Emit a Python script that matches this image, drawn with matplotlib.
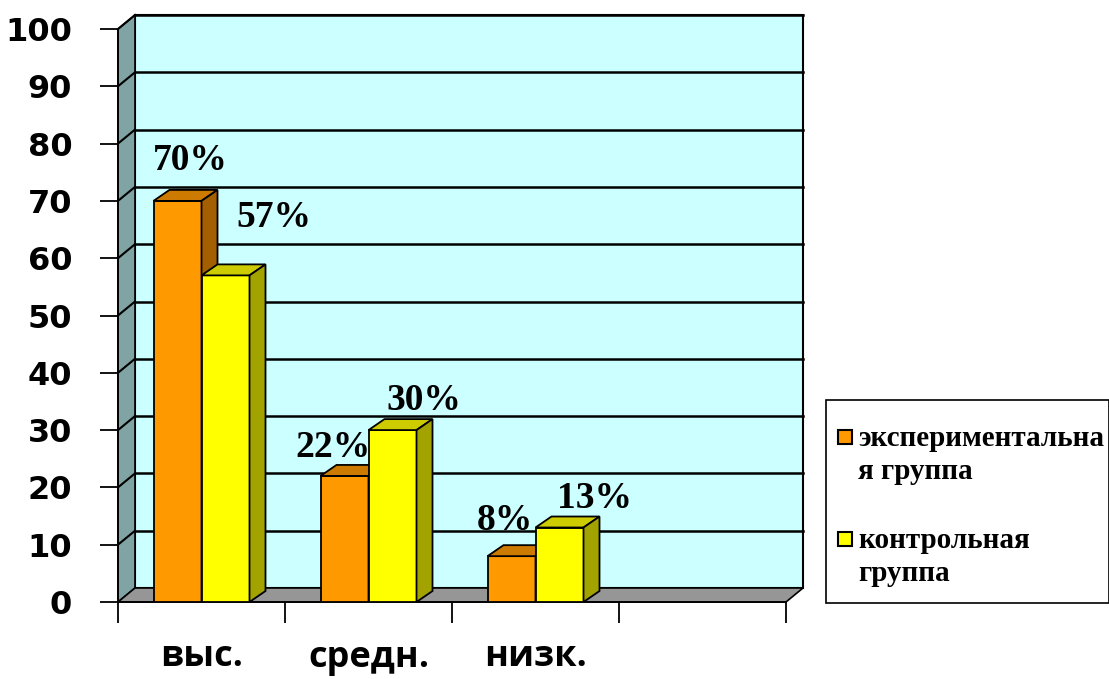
import matplotlib
matplotlib.use('Agg')
import matplotlib.pyplot as plt
from matplotlib.patches import Polygon, Rectangle

# данные
categories = ['выс.', 'средн.', 'низк.']
series_names = ['экспериментальна\nя группа', 'контрольная\nгруппа']
exp_group = [70, 22, 8]
ctrl_group = [57, 30, 13]
y_ticks = list(range(0, 101, 10))

# цвета: лицевая грань, верх, бок
colors = [('#FF9900', '#CC7A00', '#A35F00'),
          ('#FFFF00', '#CCCC00', '#A3A300')]

# смещения подписей (dx в долях категории, dy в единицах оси)
label_off = [[(0.078, 5.4), (-0.07, 3.3), (-0.04, 4.6)],
             [(0.287, 8.4), (0.19, 3.5), (0.21, 3.4)]]

W, H = 1109, 679
fig = plt.figure(figsize=(W / 100, H / 100), dpi=100)
ax = fig.add_axes([118 / W, 1 - 602 / H, 668 / W, 573 / H])
ax.set_xlim(0, 4)
ax.set_ylim(0, 100)
ax.patch.set_visible(False)

# пиксели -> единицы данных
px_x = 1 / 167
px_y = 100 / 573
wdx, wdy = 17 * px_x, 14 * px_y    # глубина стен
bdx, bdy = 16 * px_x, 11 * px_y    # глубина столбиков

# задняя стенка
ax.add_patch(Rectangle((wdx, wdy), 4, 100, facecolor='#CCFFFF',
                       edgecolor='black', lw=1.5, zorder=0, clip_on=False))
# боковая стенка
ax.add_patch(Polygon([(0, 0), (0, 100), (wdx, 100 + wdy), (wdx, wdy)],
                     facecolor='#80A4A4', edgecolor='black', lw=1.2,
                     zorder=0.5, clip_on=False))
# линии сетки
for v in y_ticks[1:]:
    ax.plot([wdx, 4 + wdx], [v + wdy, v + wdy], color='black', lw=1.8,
            zorder=1, clip_on=False)
    ax.plot([0, wdx], [v, v + wdy], color='black', lw=1.5, zorder=1,
            clip_on=False)
# пол
ax.add_patch(Polygon([(0, 0), (4, 0), (4 + wdx, wdy), (wdx, wdy)],
                     facecolor='#969696', edgecolor='black', lw=1.2,
                     zorder=1.5, clip_on=False))

# столбики
w = 96 / 167 / 2
for s, vals in enumerate([exp_group, ctrl_group]):
    front, top, side = colors[s]
    x0s = [i + 0.5 + (s - 1) * w for i in range(len(vals))]
    ax.bar(x0s, vals, width=w, align='edge', color=front,
           edgecolor='black', lw=1.3, zorder=3 + s)
    for x0, v in zip(x0s, vals):
        ax.add_patch(Polygon([(x0, v), (x0 + w, v), (x0 + w + bdx, v + bdy),
                              (x0 + bdx, v + bdy)], facecolor=top,
                             edgecolor='black', lw=1.3, zorder=3 + s))
        ax.add_patch(Polygon([(x0 + w, 0), (x0 + w + bdx, bdy),
                              (x0 + w + bdx, v + bdy), (x0 + w, v)],
                             facecolor=side, edgecolor='black', lw=1.3,
                             zorder=3 + s))
    for i, (x0, v) in enumerate(zip(x0s, vals)):
        dx, dy = label_off[s][i]
        ax.text(x0 + w / 2 + dx, v + dy, f'{v}%', ha='center', va='baseline',
                fontsize=27, fontweight='bold', family='Liberation Serif',
                zorder=6, clip_on=False)

# оси
for sp in ['top', 'right']:
    ax.spines[sp].set_visible(False)
for sp in ['left', 'bottom']:
    ax.spines[sp].set_linewidth(1.3)
    ax.spines[sp].set_zorder(2)
ax.set_yticks(y_ticks)
ax.set_yticklabels([str(t) for t in y_ticks], fontsize=23, fontweight='bold',
                   family='DejaVu Sans')
ax.tick_params(axis='y', direction='out', length=13, width=1.3, pad=20)
ax.set_xticks(range(5))
ax.set_xticklabels([])
ax.tick_params(axis='x', which='major', direction='out', length=15, width=1.3)
ax.set_xticks([i + 0.5 for i in range(len(categories))], minor=True)
ax.set_xticklabels(categories, minor=True, fontsize=26, fontweight='bold',
                   family='Open Sans')
ax.tick_params(axis='x', which='minor', length=0, pad=27)

# легенда
fig.add_artist(Rectangle((826 / W, 1 - 603 / H), 283 / W, 203 / H,
                         transform=fig.transFigure, fill=False,
                         edgecolor='black', lw=1.2))
legend_y = [430, 532]
for s, name in enumerate(series_names):
    y = legend_y[s]
    fig.add_artist(Rectangle((838 / W, 1 - (y + 14) / H), 14 / W, 14 / H,
                             transform=fig.transFigure,
                             facecolor=colors[s][0], edgecolor='black', lw=1.5))
    for k, line in enumerate(name.split('\n')):
        fig.text(858 / W, 1 - (y + 16 + 33 * k) / H, line, ha='left',
                 va='baseline', fontsize=21, fontweight='bold',
                 family='Liberation Serif')

fig.savefig('out.png', dpi=100)
